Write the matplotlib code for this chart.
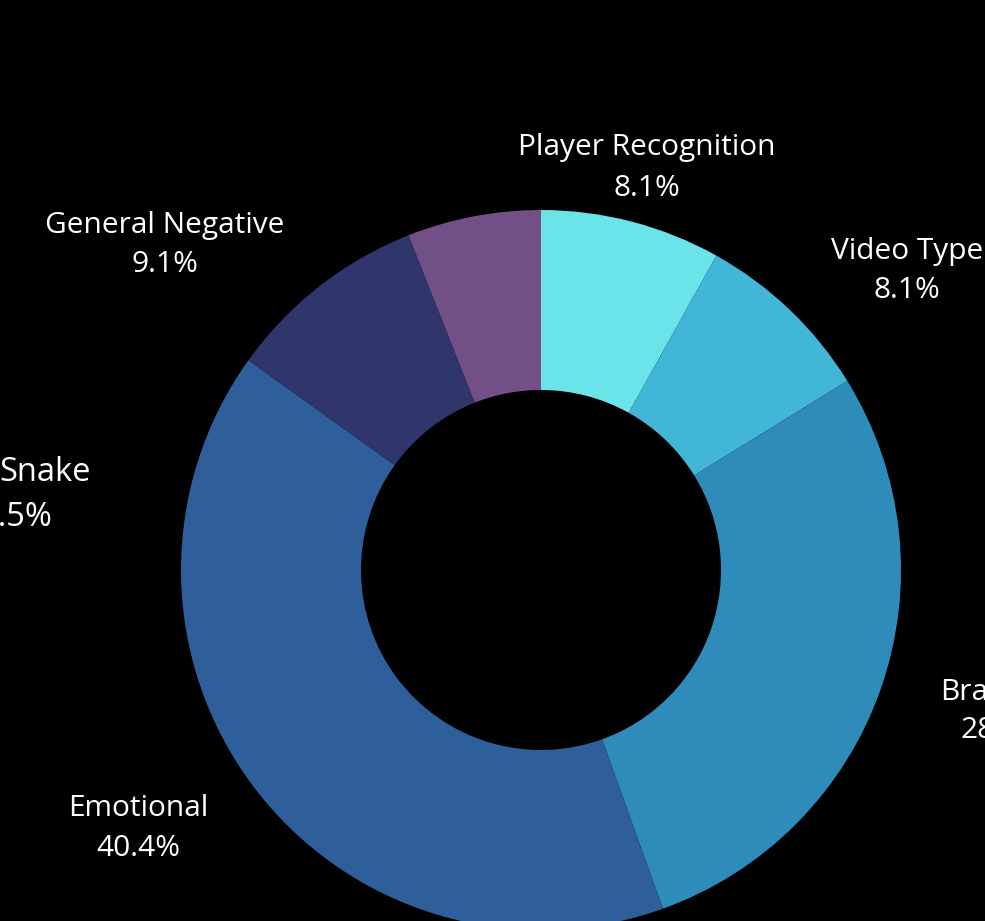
import matplotlib.pyplot as plt

# slice data (clockwise from top)
categories = ['Player Recognition', 'Video Type', 'Brand', 'Emotional',
              'General Negative', 'Snake']
shares = [8.1, 8.1, 28.3, 40.4, 9.1, 6.0]
pct_text = ['8.1%', '8.1%', '28.3%', '40.4%', '9.1%', '6.5%']
colors = ['#6ae4e8', '#42b6d6', '#2e8bba', '#2e5f9a', '#30356b', '#734f88']

# label placement in pixels: (x name, y name, x pct, y pct, align, font size)
label_pos = [(647, 148, 647, 188, 'center', 21.5),
             (907, 251, 907, 290, 'center', 21.5),
             (940, 693, 960, 731, 'left', 21.5),
             (138, 808, 138, 848, 'center', 21.5),
             (165, 225, 165, 264, 'center', 21.5),
             (91, 473, 52, 518, 'right', 23.5)]

W, H = 985, 921
fig = plt.figure(figsize=(W / 100, H / 100), dpi=100, facecolor='black')
ax = fig.add_axes([0, 0, 1, 1])
ax.set_facecolor('black')
ax.axis('off')

ax.pie(shares, colors=colors, startangle=90, counterclock=False,
       center=(541, H - 570), radius=360,
       wedgeprops=dict(width=180, linewidth=0))
ax.set_xlim(0, W)
ax.set_ylim(0, H)
ax.set_aspect('equal')

for name, pct, (x1, y1, x2, y2, al, fs) in zip(categories, pct_text, label_pos):
    ax.text(x1, H - y1, name, color='white', fontsize=fs, family='Open Sans',
            ha=al, va='center')
    ax.text(x2, H - y2, pct, color='white', fontsize=fs, family='Open Sans',
            ha=al, va='center')

fig.savefig('out.png', dpi=100, facecolor='black')
